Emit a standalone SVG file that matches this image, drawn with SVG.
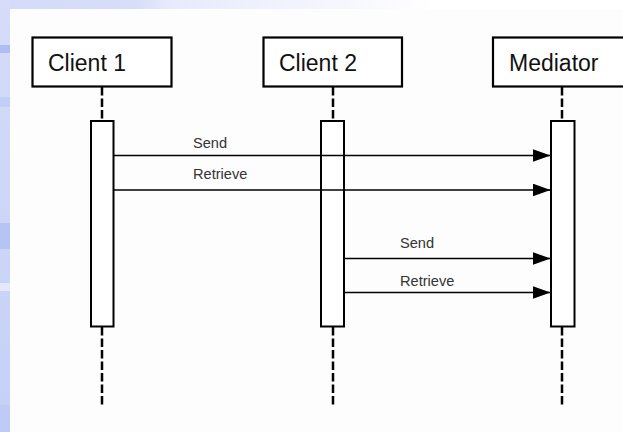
<svg xmlns="http://www.w3.org/2000/svg" width="623" height="432" viewBox="0 0 623 432">
  <defs>
    <linearGradient id="topg" x1="0" y1="0" x2="1" y2="0">
      <stop offset="0" stop-color="#d4dbf8"/>
      <stop offset="0.22" stop-color="#d8def9"/>
      <stop offset="0.27" stop-color="#e6eafc"/>
      <stop offset="0.55" stop-color="#f6f7fe"/>
      <stop offset="0.7" stop-color="#ffffff"/>
    </linearGradient>
    <linearGradient id="leftg" x1="0" y1="0" x2="0" y2="1">
      <stop offset="0" stop-color="#d6dcf9"/>
      <stop offset="0.5" stop-color="#ccd6f8"/>
      <stop offset="1" stop-color="#c4d0f7"/>
    </linearGradient>
    <marker id="arrow" markerWidth="18" markerHeight="13" refX="18" refY="6.5" orient="auto" markerUnits="userSpaceOnUse">
      <path d="M0,0 L18,6.5 L0,13 Z" fill="#000"/>
    </marker>
    <style>
      .box { fill: #ffffff; stroke: #000; stroke-width: 2.2; }
      .act { fill: #ffffff; stroke: #000; stroke-width: 2; }
      .life { stroke: #000; stroke-width: 2.5; stroke-dasharray: 8.5 3; fill: none; }
      .title { font-family: "Liberation Sans", Arial, sans-serif; font-size: 23px; fill: #111; }
      .lbl { font-family: "Liberation Sans", Arial, sans-serif; font-size: 14.6px; fill: #333; }
      .msg { stroke: #000; stroke-width: 1.4; fill: none; marker-end: url(#arrow); }
    </style>
  </defs>

  <!-- background -->
  <rect x="0" y="0" width="623" height="432" fill="#fdfdfd"/>
  <rect x="0" y="0" width="623" height="9" fill="url(#topg)"/>
  <rect x="0" y="0" width="10" height="432" fill="url(#leftg)"/>
  <rect x="0" y="45" width="10" height="8" fill="#afbdf2"/>
  <rect x="0" y="97" width="10" height="10" fill="#c3cef6"/>
  <rect x="0" y="223" width="10" height="26" fill="#b6c4f4"/>
  <rect x="0" y="283" width="10" height="8" fill="#e4e8fb"/>
  <rect x="0" y="405" width="10" height="27" fill="#bfcbf6"/>

  <g id="client1">
    <rect class="box" x="32.5" y="37.5" width="139" height="49"/>
    <text class="title" x="48" y="71">Client 1</text>
    <line class="life" x1="102" y1="87" x2="102" y2="121"/>
    <rect class="act" x="91" y="121" width="22.5" height="205.5"/>
    <line class="life" x1="102" y1="327" x2="102" y2="407"/>
  </g>

  <g id="client2">
    <rect class="box" x="263.5" y="37.5" width="138.5" height="49"/>
    <text class="title" x="279" y="71">Client 2</text>
    <line class="life" x1="333" y1="87" x2="333" y2="121"/>
    <rect class="act" x="321" y="121" width="23" height="205.5"/>
    <line class="life" x1="333" y1="327" x2="333" y2="407"/>
  </g>

  <g id="mediator">
    <rect class="box" x="493" y="37.5" width="140" height="49"/>
    <text class="title" x="509" y="71">Mediator</text>
    <line class="life" x1="562" y1="87" x2="562" y2="121"/>
    <rect class="act" x="551" y="121" width="23.5" height="205.5"/>
    <line class="life" x1="562" y1="327" x2="562" y2="407"/>
  </g>

  <g id="connectors">
    <line class="msg" x1="114" y1="155.5" x2="550.5" y2="155.5"/>
    <text class="lbl" x="193" y="148">Send</text>
    <line class="msg" x1="114" y1="190" x2="550.5" y2="190"/>
    <text class="lbl" x="193" y="179">Retrieve</text>
    <line class="msg" x1="344" y1="258.5" x2="550.5" y2="258.5"/>
    <text class="lbl" x="400" y="248">Send</text>
    <line class="msg" x1="344" y1="292.5" x2="550.5" y2="292.5"/>
    <text class="lbl" x="400" y="286">Retrieve</text>
  </g>
</svg>
